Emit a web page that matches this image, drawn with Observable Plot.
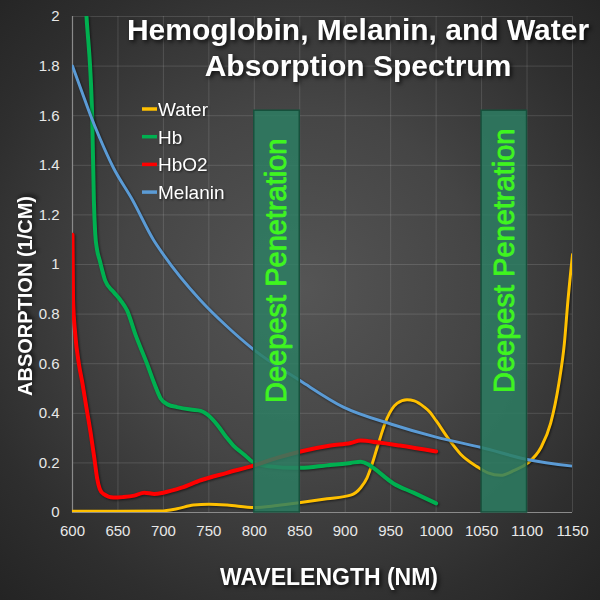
<!DOCTYPE html>
<html>
<head>
<meta charset="utf-8">
<script src="https://cdn.jsdelivr.net/npm/d3@7"></script>
<script src="https://cdn.jsdelivr.net/npm/@observablehq/plot@0.6"></script>
<style>
  html, body { margin: 0; padding: 0; background: #222; }
  #wrap {
    position: relative; width: 600px; height: 600px; overflow: hidden;
    background: radial-gradient(ellipse 75% 75% at 50% 48%, #555 0%, #454545 40%, #2e2e2e 75%, #222 100%);
    font-family: "Liberation Sans", Arial, sans-serif;
  }
  #chart { position: absolute; left: 0; top: 0; }
  #overlay { position: absolute; left: 0; top: 0; pointer-events: none; }
  #chart g[aria-label="line"] { filter: drop-shadow(1px 1.5px 1px rgba(0,0,0,0.55)); }
</style>
</head>
<body>
<div id="wrap">
  <div id="chart"></div>
  <svg id="overlay" width="600" height="600"></svg>
</div>
<script>
// ---- data ----
const titleLines = ["Hemoglobin, Melanin, and Water", "Absorption Spectrum"];
const xLabel = "WAVELENGTH (NM)";
const yLabel = "ABSORPTION (1/CM)";
const xTicks = [600, 650, 700, 750, 800, 850, 900, 950, 1000, 1050, 1100, 1150];
const yTicks = [0, 0.2, 0.4, 0.6, 0.8, 1, 1.2, 1.4, 1.6, 1.8, 2];

const seriesNames = ["Water", "Hb", "HbO2", "Melanin"];
const seriesColors = ["#ffc000", "#00b050", "#ff0000", "#5b9bd5"];

const waterNm = [600, 650, 697, 715, 733, 750, 770, 800, 825, 851, 880, 906, 917, 924, 930, 935, 946, 957, 968, 976, 987, 993, 1000, 1013, 1027, 1045, 1057, 1071, 1086, 1101, 1115, 1126, 1135, 1141, 1145, 1150];
const waterAbs = [0.005, 0.005, 0.006, 0.015, 0.03, 0.033, 0.03, 0.02, 0.028, 0.04, 0.055, 0.07, 0.10, 0.14, 0.20, 0.26, 0.38, 0.44, 0.455, 0.45, 0.425, 0.405, 0.37, 0.30, 0.235, 0.185, 0.16, 0.15, 0.17, 0.20, 0.26, 0.36, 0.52, 0.68, 0.855, 1.04];

const hbNm = [612, 615.4, 621.7, 623.5, 625, 627, 630, 636, 645, 653, 660, 670, 682, 690, 697, 705, 715, 730, 741, 750, 760, 770, 777, 790, 800, 820, 843, 851, 880, 906, 917, 925, 931, 953, 975, 1000];
const hbAbs = [2.2, 2.0, 1.59, 1.26, 1.125, 1.06, 1.016, 0.935, 0.89, 0.855, 0.815, 0.71, 0.60, 0.52, 0.46, 0.435, 0.425, 0.415, 0.41, 0.39, 0.35, 0.30, 0.27, 0.23, 0.20, 0.185, 0.18, 0.18, 0.19, 0.20, 0.205, 0.195, 0.18, 0.117, 0.08, 0.037];

const hbo2Nm = [600, 600.6, 603, 607, 611, 615, 620, 624, 627, 630, 634, 645, 655, 668, 679, 690, 700, 720, 741, 770, 800, 825, 851, 884, 906, 917, 935, 960, 1000];
const hbo2Abs = [1.12, 0.86, 0.72, 0.6, 0.52, 0.43, 0.32, 0.22, 0.14, 0.095, 0.075, 0.06, 0.062, 0.068, 0.08, 0.075, 0.08, 0.10, 0.13, 0.16, 0.19, 0.22, 0.246, 0.27, 0.28, 0.29, 0.283, 0.27, 0.246];

const melaninNm = [600, 610, 620, 630, 645, 666, 689, 700, 741, 770, 800, 851, 898, 950, 1000, 1050, 1100, 1150];
const melaninAbs = [1.80, 1.70, 1.60, 1.51, 1.39, 1.26, 1.10, 1.04, 0.855, 0.75, 0.655, 0.53, 0.425, 0.357, 0.304, 0.262, 0.214, 0.187];

const bandStart = [800, 1050];
const bandEnd = [850, 1100];
const bandTop = 1.62;
const bandLabel = "Deepest Penetration";
const bandLabelAt = [0.975, 1.015];

// ---- build tables ----
const zip = (xs, ys) => xs.map((x, i) => ({nm: x, v: ys[i]}));
const seriesData = [zip(waterNm, waterAbs), zip(hbNm, hbAbs), zip(hbo2Nm, hbo2Abs), zip(melaninNm, melaninAbs)];
const seriesWidth = [3, 4, 4, 3];
const bands = bandStart.map((s, i) => ({x1: s, x2: bandEnd[i], mid: (s + bandEnd[i]) / 2, ty: bandLabelAt[i], label: bandLabel}));

const lineMarks = seriesData.map((d, i) =>
  Plot.line(d, {x: "nm", y: "v", stroke: seriesColors[i], strokeWidth: seriesWidth[i], curve: "monotone-x", clip: true, strokeLinejoin: "round", strokeLinecap: "round"})
);

const chart = Plot.plot({
  width: 600,
  height: 600,
  marginLeft: 72,
  marginRight: 28,
  marginTop: 16,
  marginBottom: 88,
  style: {background: "transparent", color: "#e8e8e8", fontFamily: "'Liberation Sans', Arial, sans-serif", fontSize: "15px"},
  x: {domain: [600, 1150], ticks: xTicks, tickFormat: d => String(d), label: null, tickSize: 0, tickPadding: 13},
  y: {domain: [0, 2], ticks: yTicks, tickFormat: d3.format("~g"), label: null, tickSize: 0, tickPadding: 13},
  marks: [
    Plot.ruleX(xTicks, {stroke: "#ffffff", strokeOpacity: 0.13}),
    Plot.ruleY(yTicks, {stroke: "#ffffff", strokeOpacity: 0.13}),
    Plot.ruleX([600], {stroke: "#8a8a8a", strokeWidth: 1.2}),
    Plot.ruleY([0], {stroke: "#8a8a8a", strokeWidth: 1.2}),
    ...lineMarks,
    Plot.rect(bands, {x1: "x1", x2: "x2", y1: 0, y2: bandTop, fill: "#2c7e63", fillOpacity: 0.84, stroke: "#17503c", strokeWidth: 1.5}),
    Plot.text(bands, {x: "mid", y: "ty", text: "label", rotate: -90, fill: "#3ff51f", stroke: "#3ff51f", strokeWidth: 0.8, fontSize: 29, fontFamily: "'Liberation Sans', Arial, sans-serif"})
  ]
});
document.getElementById("chart").appendChild(chart);

// ---- overlay texts ----
const ov = d3.select("#overlay");
const shadow = "drop-shadow(2px 2px 2px rgba(0,0,0,0.75))";
ov.selectAll("text.title").data(titleLines).join("text")
  .attr("class", "title")
  .attr("x", 358).attr("y", (d, i) => 40 + i * 36)
  .attr("text-anchor", "middle")
  .attr("font-size", 30).attr("font-weight", "bold")
  .attr("font-family", "'Liberation Sans', Arial, sans-serif")
  .attr("fill", "#ffffff")
  .style("filter", shadow)
  .text(d => d);

const leg = ov.selectAll("g.leg").data(seriesNames).join("g").attr("class", "leg")
  .attr("transform", (d, i) => `translate(0, ${116 + i * 27.7})`);
leg.append("line").attr("x1", 142).attr("x2", 157).attr("y1", -7).attr("y2", -7)
  .attr("stroke", (d, i) => seriesColors[i]).attr("stroke-width", 3.5);
leg.append("text").attr("x", 158).attr("y", 0)
  .attr("font-size", 19).attr("font-family", "'Liberation Sans', Arial, sans-serif")
  .attr("fill", "#ffffff").style("filter", "drop-shadow(1px 1px 1px rgba(0,0,0,0.6))")
  .text(d => d);

ov.append("text").attr("x", 329).attr("y", 585).attr("text-anchor", "middle")
  .attr("font-size", 23).attr("font-weight", "bold")
  .attr("font-family", "'Liberation Sans', Arial, sans-serif")
  .attr("fill", "#ffffff").style("filter", shadow).text(xLabel);

ov.append("text").attr("transform", "translate(32, 296) rotate(-90)").attr("text-anchor", "middle")
  .attr("font-size", 20).attr("font-weight", "bold")
  .attr("font-family", "'Liberation Sans', Arial, sans-serif")
  .attr("fill", "#ffffff").style("filter", shadow).text(yLabel);
</script>
</body>
</html>
